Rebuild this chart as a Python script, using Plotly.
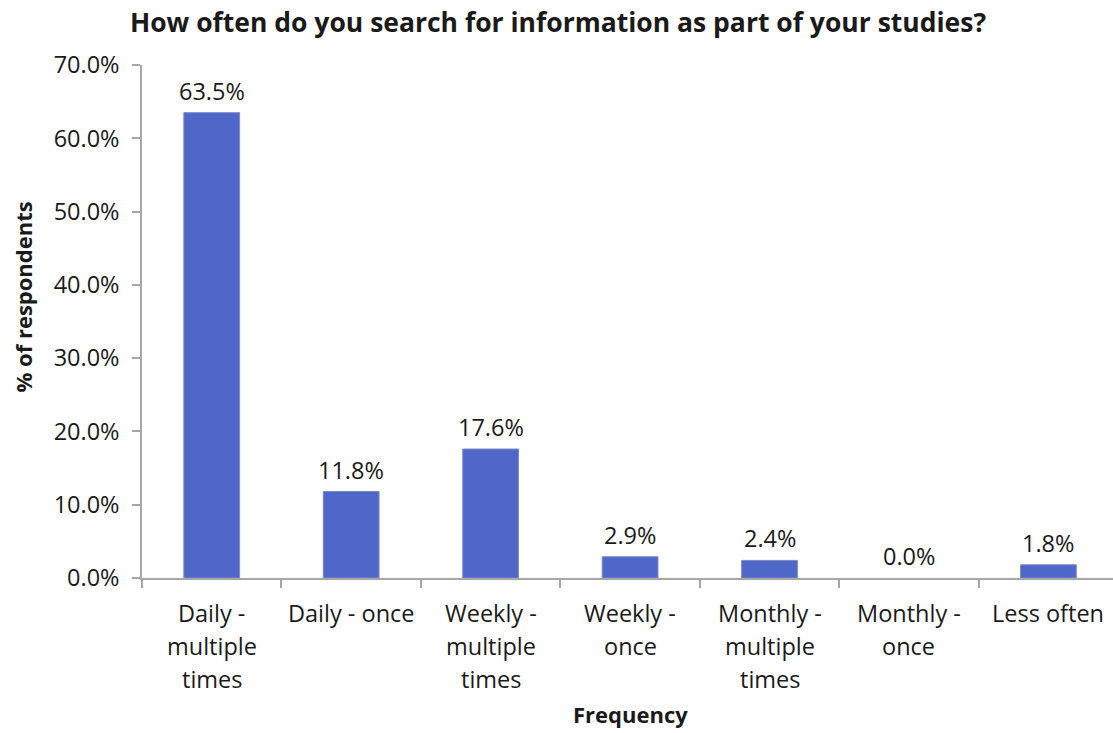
import plotly.graph_objects as go

title = "How often do you search for information as part of your studies?"
categories = ["Daily - multiple times", "Daily - once", "Weekly - multiple times",
              "Weekly - once", "Monthly - multiple times", "Monthly - once", "Less often"]
label_lines = [["Daily -", "multiple", "times"], ["Daily - once"], ["Weekly -", "multiple", "times"],
               ["Weekly -", "once"], ["Monthly -", "multiple", "times"], ["Monthly -", "once"], ["Less often"]]
values = [63.5, 11.8, 17.6, 2.9, 2.4, 0.0, 1.8]
y_ticks = [0, 10, 20, 30, 40, 50, 60, 70]
x_title = "Frequency"
y_title = "% of respondents"

FONT = "Open Sans"
TXT = "#1a1a1a"
BAR = "#4f67c9"
AX = "#a6a6a6"

fig = go.Figure()
fig.add_trace(go.Bar(
    x=list(range(len(categories))), y=values, width=0.4,
    marker=dict(color=BAR, line=dict(color="#7d8cc4", width=[1 if v > 0 else 0 for v in values])),
    hovertext=categories, hoverinfo="text+y",
))

annotations = []
for i, v in enumerate(values):
    annotations.append(dict(x=i, y=v, xref="x", yref="y", text=f"{v:.1f}%",
                            showarrow=False, yanchor="bottom", yshift=4,
                            font=dict(family=FONT, size=23.5, color=TXT)))
for i, lines in enumerate(label_lines):
    for k, line in enumerate(lines):
        annotations.append(dict(x=i, y=0, xref="x", yref="paper", text=line,
                                showarrow=False, yanchor="middle", yshift=-(35 + 33 * k),
                                font=dict(family=FONT, size=23.5, color=TXT)))
annotations.append(dict(x=3, y=0, xref="x", yref="paper", text=f"<b>{x_title}</b>",
                        showarrow=False, yanchor="middle", yshift=-136,
                        font=dict(family=FONT, size=22, color=TXT)))
annotations.append(dict(x=0, y=0.5, xref="paper", yref="paper", text=f"<b>{y_title}</b>",
                        showarrow=False, textangle=-90, xanchor="center", xshift=-120, yshift=24,
                        font=dict(family=FONT, size=22, color=TXT)))

fig.update_layout(
    width=1113, height=733,
    margin=dict(l=142, r=0, t=65, b=155, autoexpand=False),
    paper_bgcolor="white", plot_bgcolor="white",
    showlegend=False,
    title=dict(text=f"<b>{title}</b>", x=558 / 1113, xref="container", xanchor="center",
               y=1 - 23 / 733, yref="container", yanchor="middle",
               font=dict(family=FONT, size=26.5, color=TXT)),
    font=dict(family=FONT, size=23.5, color=TXT),
    annotations=annotations,
)
fig.update_xaxes(
    type="linear", range=[-0.5, 6.463], tickvals=[i - 0.5 for i in range(len(categories) + 1)],
    showticklabels=False, ticks="outside", ticklen=8, tickcolor=AX, tickwidth=1.5,
    showline=True, linecolor=AX, linewidth=1.5, showgrid=False, zeroline=False,
)
fig.update_yaxes(
    range=[0, 70], tickvals=y_ticks, ticktext=[f"{t:.1f}%" for t in y_ticks],
    ticks="outside", ticklen=8, tickcolor=AX, tickwidth=1.5,
    showline=True, linecolor=AX, linewidth=1.5, showgrid=False, zeroline=False,
    tickfont=dict(family=FONT, size=23.5, color=TXT), ticklabelstandoff=8,
)

fig.write_html("out.html", config={"displayModeBar": False},
               post_script="document.body.style.margin='0';")
